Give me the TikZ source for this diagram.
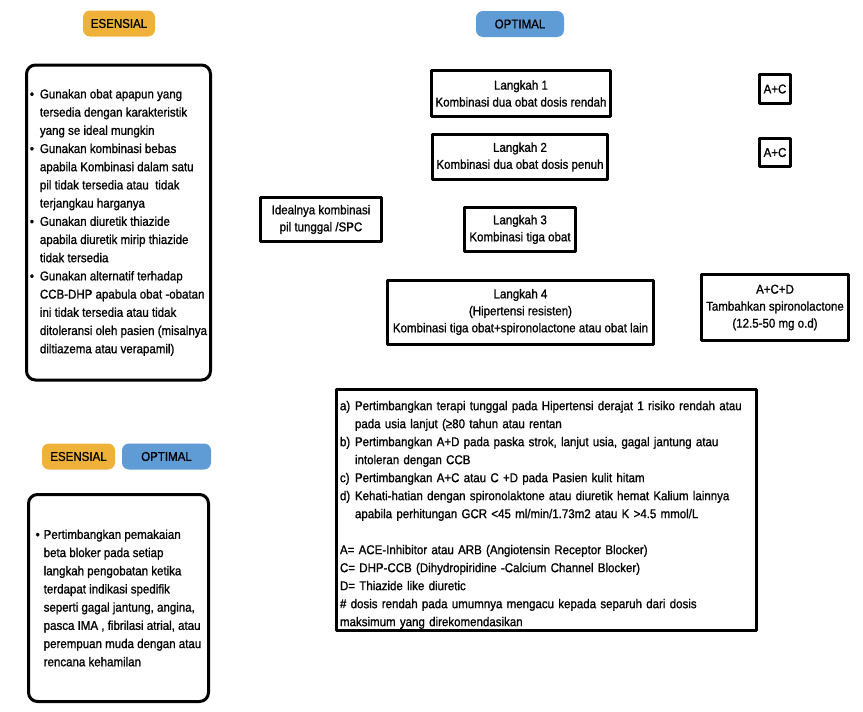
\documentclass[tikz,border=0pt]{standalone}
\usepackage{fontspec}
\setmainfont{Liberation Sans}[FakeStretch=0.9, FakeBold=1.0]
\definecolor{esorange}{HTML}{F0B13A}
\definecolor{opblue}{HTML}{5F9CD6}
\hyphenpenalty=10000 \exhyphenpenalty=10000
\begin{document}
\begin{tikzpicture}[x=1pt, y=-1pt, font=\fontsize{12.8}{17}\selectfont, line join=round,
		box/.style={draw, line width=3pt, inner sep=0pt, align=center},
		roundbox/.style={draw, line width=3pt, rounded corners=9pt, inner sep=0pt, align=left, font=\fontsize{12.8}{18.2}\selectfont},
		badge/.style={rounded corners=7pt, inner sep=0pt, minimum height=26pt}]
		\def\bu{\makebox[10pt][l]{\textbullet}} \def\hi{\hspace*{10pt}}
		\useasboundingbox (0,0) rectangle (863,712);
		% badges
		\node[badge, fill=esorange, minimum width=72pt] (esTop) at (119,23.5) {ESENSIAL};
		\node[badge, fill=opblue, minimum width=88pt] (opTop) at (520,24) {OPTIMAL};
		\node[badge, fill=esorange, minimum width=73pt] (esBot) at (78.5,456.5) {ESENSIAL};
		\node[badge, fill=opblue, minimum width=89pt] (opBot) at (166.5,456.5) {OPTIMAL};
		% left boxes
		\node[roundbox, minimum width=184pt, minimum height=315pt] (generic) at (118.5,222.5) {\bu Gunakan obat apapun yang\\ \hi tersedia dengan karakteristik\\ \hi yang se ideal mungkin\\
			\bu Gunakan kombinasi bebas\\ \hi apabila Kombinasi dalam satu\\ \hi pil tidak tersedia atau\ \ tidak\\ \hi terjangkau harganya\\
			\bu Gunakan diuretik thiazide\\ \hi apabila diuretik mirip thiazide\\ \hi tidak tersedia\\
			\bu Gunakan alternatif terhadap\\ \hi CCB-DHP apabula obat -obatan\\ \hi ini tidak tersedia atau tidak\\ \hi ditoleransi oleh pasien (misalnya\\ \hi diltiazema atau verapamil)};
		\def\bu{\makebox[8pt][l]{\textbullet}} \def\hi{\hspace*{8pt}}
		\node[roundbox, minimum width=180pt, minimum height=207pt] (beta) at (118.5,598) {\bu Pertimbangkan pemakaian\\ \hi beta bloker pada setiap\\ \hi langkah pengobatan ketika\\ \hi terdapat indikasi spedifik\\
			\hi seperti gagal jantung, angina,\\ \hi pasca IMA , fibrilasi atrial, atau\\ \hi perempuan muda dengan atau\\ \hi rencana kehamilan};
		% steps
		\node[box, minimum width=179pt, minimum height=46pt] (step1) at (521,93.5) {Langkah 1\\ Kombinasi dua obat dosis rendah};
		\node[box, minimum width=175pt, minimum height=45pt] (step2) at (520,157) {Langkah 2\\ Kombinasi dua obat dosis penuh};
		\node[box, minimum width=121pt, minimum height=44pt] (spc) at (321,219.5) {Idealnya kombinasi\\ pil tunggal /SPC};
		\node[box, minimum width=111pt, minimum height=44pt] (step3) at (520,229.5) {Langkah 3\\ Kombinasi tiga obat};
		\node[box, minimum width=266pt, minimum height=64pt] (step4) at (520.5,312) {Langkah 4\\ (Hipertensi resisten)\\ Kombinasi tiga obat+spironolactone atau obat lain};
		\node[box, minimum width=147pt, minimum height=66pt] (acd) at (775,307.5) {A+C+D\\ Tambahkan spironolactone\\ (12.5-50 mg o.d)};
		\node[box, minimum width=31pt, minimum height=29pt] (ac1) at (775,89) {A+C};
		\node[box, minimum width=31pt, minimum height=28pt] (ac2) at (775,152.5) {A+C};
		% notes
		\def\lb#1{\makebox[15pt][l]{#1}} \def\hi{\hspace*{15pt}}
		\node[box, align=left, inner xsep=3.5pt, text width=413pt, minimum height=241pt, font=\fontsize{12.8}{18}\selectfont] (notes) at (546.5,510) {\rule{0pt}{19pt}\lb{a)}Pertimbangkan terapi tunggal pada Hipertensi derajat 1 risiko rendah atau\\ \hi pada usia lanjut (≥80 tahun atau rentan\\
			\lb{b)}Pertimbangkan A+D pada paska strok, lanjut usia, gagal jantung atau\\ \hi intoleran dengan CCB\\
			\lb{c)}Pertimbangkan A+C atau C +D pada Pasien kulit hitam\\
			\lb{d)}Kehati-hatian dengan spironolaktone atau diuretik hemat Kalium lainnya\\ \hi apabila perhitungan GCR <45 ml/min/1.73m2 atau K >4.5 mmol/L\\[18pt]
			A= ACE-Inhibitor atau ARB (Angiotensin Receptor Blocker)\\ C= DHP-CCB (Dihydropiridine -Calcium Channel Blocker)\\ D= Thiazide like diuretic\\
			\# dosis rendah pada umumnya mengacu kepada separuh dari dosis\\ maksimum yang direkomendasikan};
	\end{tikzpicture}
\end{document}
